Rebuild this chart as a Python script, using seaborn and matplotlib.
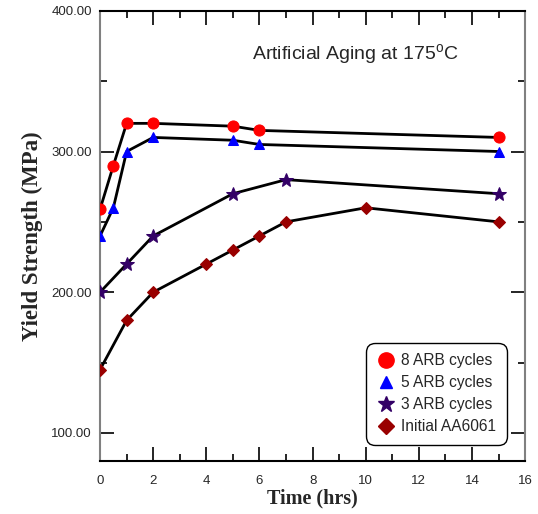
import matplotlib
matplotlib.use('Agg')
import matplotlib.pyplot as plt
import pandas as pd
import seaborn as sns
from matplotlib.ticker import MultipleLocator, FormatStrFormatter

sns.set_style('ticks')
plt.rcParams['font.family'] = ['Liberation Sans', 'DejaVu Sans']

# data
t_8arb = [0, 0.5, 1, 2, 5, 6, 15]
ys_8arb = [259, 290, 320, 320, 318, 315, 310]
t_5arb = [0, 0.5, 1, 2, 5, 6, 15]
ys_5arb = [240, 260, 300, 310, 308, 305, 300]
t_3arb = [0, 1, 2, 5, 7, 15]
ys_3arb = [200, 220, 240, 270, 280, 270]
t_init = [0, 1, 2, 4, 5, 6, 7, 10, 15]
ys_init = [145, 180, 200, 220, 230, 240, 250, 260, 250]

# label, x, y, marker, colour, plot size, legend size
series = [
    ('8 ARB cycles', t_8arb, ys_8arb, 'o', '#FF0000', 8, 11),
    ('5 ARB cycles', t_5arb, ys_5arb, '^', '#0000FF', 7.5, 9),
    ('3 ARB cycles', t_3arb, ys_3arb, '*', '#330066', 10, 12),
    ('Initial AA6061', t_init, ys_init, 'D', '#990000', 6.5, 8),
]

fig = plt.figure(figsize=(5.38, 5.14), dpi=100)
ax = fig.add_axes([0.186, 0.103, 0.79, 0.876])

handles = []
for label, t, ys, m, c, ms, lms in series:
    df = pd.DataFrame({'t': t, 'ys': ys})
    sns.lineplot(x='t', y='ys', data=df, ax=ax, color='black', linewidth=2,
                 marker=m, markersize=ms, markerfacecolor=c, markeredgecolor=c,
                 zorder=3)
    handles.append(plt.Line2D([], [], linestyle='none', marker=m, markersize=lms,
                              markerfacecolor=c, markeredgecolor=c, label=label))

ax.set_xlim(0, 16)
ax.set_ylim(80, 400)
ax.xaxis.set_major_locator(MultipleLocator(2))
ax.xaxis.set_minor_locator(MultipleLocator(1))
ax.yaxis.set_major_locator(MultipleLocator(100))
ax.yaxis.set_minor_locator(MultipleLocator(50))
ax.yaxis.set_major_formatter(FormatStrFormatter('%.2f'))
ax.tick_params(which='both', direction='in', top=True, right=True,
               labelsize=9.5, width=1.2, color='black')
ax.tick_params(which='major', length=10)
ax.tick_params(which='minor', length=5)
ax.tick_params(axis='x', which='major', pad=10)
ax.tick_params(axis='y', which='major', pad=6)

for side in ['left', 'right']:
    ax.spines[side].set_color('#808080')
    ax.spines[side].set_linewidth(1.5)
for side in ['top', 'bottom']:
    ax.spines[side].set_color('black')
    ax.spines[side].set_linewidth(1.5)

ax.set_xlabel('Time (hrs)', fontsize=14.5, fontweight='bold',
              family='Liberation Serif', labelpad=1)
ax.set_ylabel('Yield Strength (MPa)', fontsize=16.5, fontweight='bold',
              family='Liberation Serif', labelpad=6)

ax.text(0.358, 0.89, 'Artificial Aging at 175$^\\mathregular{o}$C',
        transform=ax.transAxes, fontsize=14)

leg = ax.legend(handles=handles, loc='lower right', bbox_to_anchor=(0.958, 0.035),
                fontsize=11.2, frameon=True, fancybox=True, edgecolor='black',
                framealpha=1, handletextpad=0.4, borderpad=0.5, labelspacing=0.45,
                handlelength=1.2, borderaxespad=0.2)
leg.get_frame().set_linewidth(1.0)
leg.get_frame().set_boxstyle('round', pad=0.2, rounding_size=0.6)

fig.savefig('out.png', dpi=100)
